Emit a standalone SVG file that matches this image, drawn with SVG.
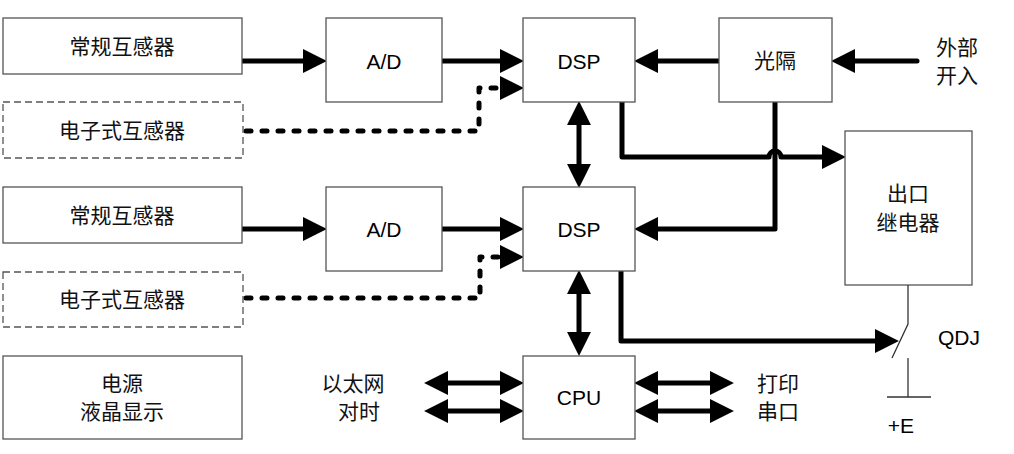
<svg xmlns="http://www.w3.org/2000/svg" width="1014" height="454" viewBox="0 0 1014 454">
<style>
.box{fill:#fff;stroke:#555;stroke-width:1.3}
.dbox{fill:#fff;stroke:#555;stroke-width:1.3;stroke-dasharray:7 4}
.cn{fill:none;stroke:#000;stroke-width:5;stroke-linecap:round;stroke-linejoin:round}
.dot{fill:none;stroke:#000;stroke-width:5;stroke-linecap:round;stroke-linejoin:round;stroke-dasharray:5 11}
.thin{fill:none;stroke:#333;stroke-width:1.3}
.zh{font-family:"Noto Sans CJK SC","Liberation Serif",serif;font-size:21px;fill:#111;text-anchor:middle}
.en{font-family:"Liberation Sans",Arial,sans-serif;font-size:21px;fill:#000;text-anchor:middle}
</style>
<defs>
<marker id="ah" markerUnits="userSpaceOnUse" markerWidth="24" markerHeight="24" viewBox="0 0 22 22" refX="12" refY="11" orient="auto-start-reverse">
<path d="M0,0 L22,11 L0,22 z" fill="#000"/>
</marker>
</defs>
<g id="connectors">
<path class="cn" d="M242,61 H316" marker-end="url(#ah)"/>
<path class="cn" d="M442,61 H513" marker-end="url(#ah)"/>
<path class="cn" d="M719,61 H645" marker-end="url(#ah)"/>
<path class="cn" d="M917,61 H842" marker-end="url(#ah)"/>
<path class="dot" d="M246,131 H479 V88 H513" marker-end="url(#ah)"/>
<path class="cn" d="M242,229 H316" marker-end="url(#ah)"/>
<path class="cn" d="M442,229 H513" marker-end="url(#ah)"/>
<path class="dot" d="M246,298 H480 V257 H513" marker-end="url(#ah)"/>
<path class="cn" d="M579,112 V177" marker-start="url(#ah)" marker-end="url(#ah)"/>
<path class="cn" d="M579,281 V345" marker-start="url(#ah)" marker-end="url(#ah)"/>
<path class="cn" d="M622,102 V157 H769 A6,6 0 0 1 781,157 H835" marker-end="url(#ah)"/>
<path class="cn" d="M775,102 V229 H645" marker-end="url(#ah)"/>
<path class="cn" d="M621,271 V341 H888" marker-end="url(#ah)"/>
<path class="cn" d="M435,383 H513" marker-start="url(#ah)" marker-end="url(#ah)"/>
<path class="cn" d="M435,411 H513" marker-start="url(#ah)" marker-end="url(#ah)"/>
<path class="cn" d="M645,383 H723" marker-start="url(#ah)" marker-end="url(#ah)"/>
<path class="cn" d="M645,411 H723" marker-start="url(#ah)" marker-end="url(#ah)"/>
</g>
<g id="n1"><rect class="box" x="3" y="18" width="239" height="56"/><text class="zh" x="122" y="54">常规互感器</text></g>
<g id="n2"><rect class="dbox" x="3" y="102" width="240" height="56"/><text class="zh" x="122" y="138">电子式互感器</text></g>
<g id="n3"><rect class="box" x="326" y="18" width="116" height="84"/><text class="en" x="384" y="68.5">A/D</text></g>
<g id="n4"><rect class="box" x="523" y="18" width="112" height="84"/><text class="en" x="579" y="68.5">DSP</text></g>
<g id="n5"><rect class="box" x="719" y="18" width="113" height="84"/><text class="zh" x="775" y="68">光隔</text></g>
<g id="n6"><text class="zh" x="957" y="55">外部</text><text class="zh" x="957" y="83">开入</text></g>
<g id="n7"><rect class="box" x="845" y="131" width="127" height="154"/><text class="zh" x="908" y="201">出口</text><text class="zh" x="908" y="230">继电器</text></g>
<g id="n8"><rect class="box" x="3" y="187" width="239" height="56"/><text class="zh" x="122" y="223">常规互感器</text></g>
<g id="n9"><rect class="dbox" x="3" y="272" width="240" height="55"/><text class="zh" x="122" y="307">电子式互感器</text></g>
<g id="n10"><rect class="box" x="326" y="187" width="116" height="84"/><text class="en" x="384" y="236.5">A/D</text></g>
<g id="n11"><rect class="box" x="523" y="187" width="112" height="84"/><text class="en" x="579" y="236.5">DSP</text></g>
<g id="n12"><rect class="box" x="523" y="356" width="112" height="83"/><text class="en" x="579" y="404.5">CPU</text></g>
<g id="n13"><rect class="box" x="3" y="356" width="239" height="83"/><text class="zh" x="122" y="391">电源</text><text class="zh" x="122" y="419">液晶显示</text></g>
<g id="n14"><text class="zh" x="353" y="391">以太网</text><text class="zh" x="359" y="419">对时</text></g>
<g id="n15"><text class="zh" x="778" y="391">打印</text><text class="zh" x="778" y="419">串口</text></g>
<g id="n16">
<path class="thin" d="M908,285 V324 L892,358 M908,358 V397 M887,397 H931"/>
<text class="en" x="959" y="345">QDJ</text>
<text class="en" x="901" y="433">+E</text>
</g>
</svg>
